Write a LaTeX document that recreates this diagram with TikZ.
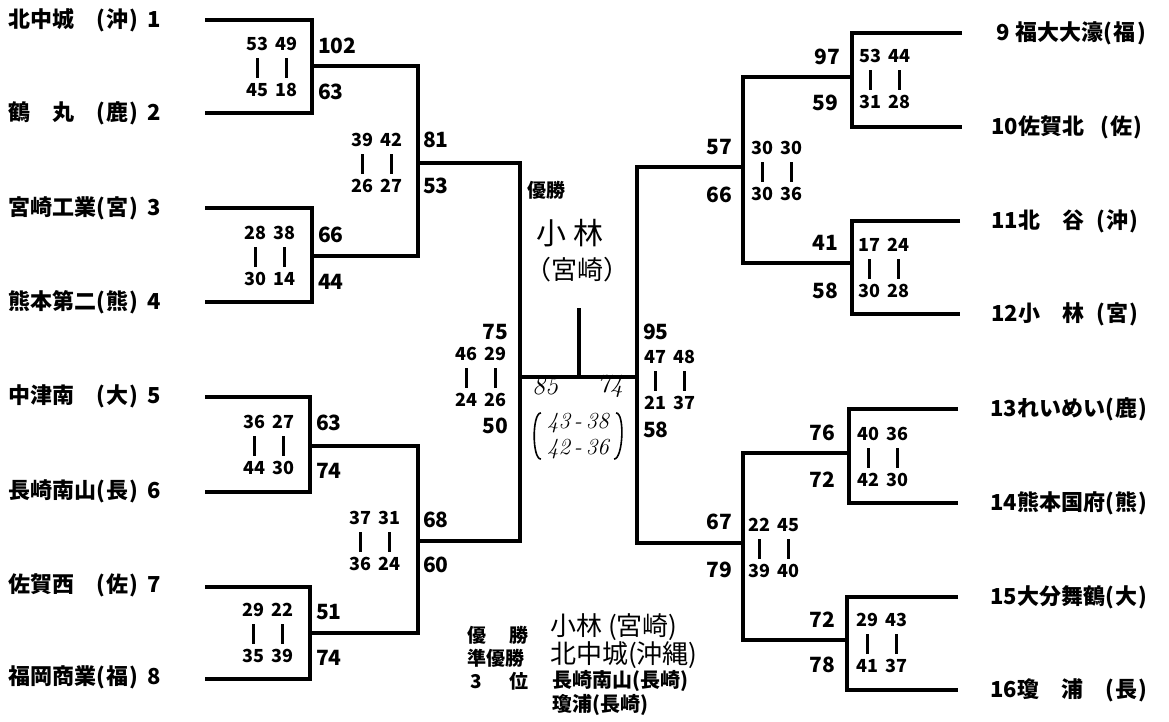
\documentclass[tikz,border=0pt]{standalone}
\usepackage{fontspec}
\newfontfamily\jp{Noto Sans CJK JP}
\newcommand{\scpair}[4]{\begin{tabular}{@{}c@{\hspace{7pt}}c@{}}#1&#2\\\raisebox{-4pt}{\rule{2.4pt}{20pt}}&\raisebox{-4pt}{\rule{2.4pt}{20pt}}\\#3&#4\end{tabular}}
\newcommand{\prefb}[1]{(\kern1.5pt#1\kern1.5pt)}

\begin{document}
\begin{tikzpicture}[x=1pt, y=-1pt,
    brk/.style={line width=3.2pt},
    team/.style={anchor=west, inner sep=0pt, font=\jp\bfseries\fontsize{22}{24}\selectfont},
    sc/.style={inner sep=0pt, font=\jp\bfseries\fontsize{21}{23}\selectfont},
    pr/.style={inner sep=0pt, font=\jp\bfseries\fontsize{18}{23}\selectfont},
    hand/.style={inner sep=0pt, font=\jp\fontsize{30}{32}\selectfont},
    hnum/.style={inner sep=0pt, font=\itshape\fontsize{26}{28}\selectfont},
    leg/.style={anchor=west, inner sep=0pt, font=\jp\bfseries\fontsize{19}{21}\selectfont}
]
\useasboundingbox (0,0) rectangle (1169,721);

% teams
\node[team] (t1) at (8,20) {北中城　\prefb{沖}\hspace{9pt}1};
\node[team] (t2) at (8,113) {鶴　丸　\prefb{鹿}\hspace{9pt}2};
\node[team] (t3) at (8,208) {宮崎工業\prefb{宮}\hspace{9pt}3};
\node[team] (t4) at (8,302) {熊本第二\prefb{熊}\hspace{9pt}4};
\node[team] (t5) at (8,396) {中津南　\prefb{大}\hspace{9pt}5};
\node[team] (t6) at (8,491) {長崎南山\prefb{長}\hspace{9pt}6};
\node[team] (t7) at (8,585) {佐賀西　\prefb{佐}\hspace{9pt}7};
\node[team] (t8) at (8,677) {福岡商業\prefb{福}\hspace{9pt}8};
\node[team] (t9) at (996,33) {9\hspace{6pt}福大大濠\prefb{福}};
\node[team] (t10) at (991,127) {10佐賀北\hspace{16pt}\prefb{佐}};
\node[team] (t11) at (991,221) {11北　谷\hspace{12pt}\prefb{沖}};
\node[team] (t12) at (991,314) {12小　林\hspace{12pt}\prefb{宮}};
\node[team] (t13) at (990,409) {13れいめい\prefb{鹿}};
\node[team] (t14) at (990,503) {14熊本国府\prefb{熊}};
\node[team] (t15) at (990,597) {15大分舞鶴\prefb{大}};
\node[team] (t16) at (990,690) {16瓊　浦　\prefb{長}};

% bracket corners
\coordinate (a1) at (205,20);  \coordinate (a2) at (205,113);
\coordinate (a3) at (205,208); \coordinate (a4) at (205,302);
\coordinate (a5) at (205,397); \coordinate (a6) at (205,492);
\coordinate (a7) at (205,587); \coordinate (a8) at (205,679);
\coordinate (a9) at (962,33);  \coordinate (a10) at (962,127);
\coordinate (a11) at (960,221); \coordinate (a12) at (960,314);
\coordinate (a13) at (958,409); \coordinate (a14) at (958,503);
\coordinate (a15) at (958,597); \coordinate (a16) at (958,690);
\coordinate (b1) at (312,66);  \coordinate (b2) at (312,256);
\coordinate (b3) at (310,446); \coordinate (b4) at (310,633);
\coordinate (b5) at (852,77);  \coordinate (b6) at (852,263);
\coordinate (b7) at (849,453); \coordinate (b8) at (847,640);
\coordinate (c1) at (418,163); \coordinate (c2) at (418,541);
\coordinate (c3) at (743,167); \coordinate (c4) at (743,543);
\coordinate (fl) at (520,377); \coordinate (fr) at (637,377);
\coordinate (top) at (579,308); \coordinate (stem) at (579,377);

\draw[brk] (a1) -| (b1) |- (a2);
\draw[brk] (a3) -| (b2) |- (a4);
\draw[brk] (a5) -| (b3) |- (a6);
\draw[brk] (a7) -| (b4) |- (a8);
\draw[brk] (b1) -| (c1) |- (b2);
\draw[brk] (b3) -| (c2) |- (b4);
\draw[brk] (c1) -| (fl) |- (c2);
\draw[brk] (a9) -| (b5) |- (a10);
\draw[brk] (a11) -| (b6) |- (a12);
\draw[brk] (a13) -| (b7) |- (a14);
\draw[brk] (a15) -| (b8) |- (a16);
\draw[brk] (b5) -| (c3) |- (b6);
\draw[brk] (b7) -| (c4) |- (b8);
\draw[brk] (c3) -| (fr) |- (c4);
\draw[brk] (fl) -- (fr);
\draw[brk] (top) -- (stem);

% scores, left half
\node[sc, anchor=west] (n1a) at (318,46) {102};
\node[sc, anchor=west] (n1b) at (318,92) {63};
\node[sc, anchor=west] (n2a) at (318,235) {66};
\node[sc, anchor=west] (n2b) at (318,282) {44};
\node[sc, anchor=west] (n3a) at (316,423) {63};
\node[sc, anchor=west] (n3b) at (316,471) {74};
\node[sc, anchor=west] (n4a) at (316,612) {51};
\node[sc, anchor=west] (n4b) at (316,658) {74};
\node[pr] (m1) at (272,69) {\scpair{53}{49}{45}{18}};
\node[pr] (m2) at (270,258) {\scpair{28}{38}{30}{14}};
\node[pr] (m3) at (269,447) {\scpair{36}{27}{44}{30}};
\node[pr] (m4) at (268,635) {\scpair{29}{22}{35}{39}};
\node[sc, anchor=west] (n5a) at (423,140) {81};
\node[sc, anchor=west] (n5b) at (423,186) {53};
\node[sc, anchor=west] (n6a) at (423,520) {68};
\node[sc, anchor=west] (n6b) at (423,565) {60};
\node[pr] (m5) at (377,165) {\scpair{39}{42}{26}{27}};
\node[pr] (m6) at (375,543) {\scpair{37}{31}{36}{24}};
\node[sc, anchor=east] (n7a) at (508,332) {75};
\node[sc, anchor=east] (n7b) at (508,426) {50};
\node[pr] (m7) at (481,379) {\scpair{46}{29}{24}{26}};

% scores, right half
\node[sc, anchor=west] (n8a) at (643,332) {95};
\node[sc, anchor=west] (n8b) at (643,430) {58};
\node[pr] (m8) at (670,382) {\scpair{47}{48}{21}{37}};
\node[sc, anchor=east] (n9a) at (732,147) {57};
\node[sc, anchor=east] (n9b) at (732,195) {66};
\node[sc, anchor=east] (n10a) at (732,522) {67};
\node[sc, anchor=east] (n10b) at (732,570) {79};
\node[pr] (m9) at (777,173) {\scpair{30}{30}{30}{36}};
\node[pr] (m10) at (774,550) {\scpair{22}{45}{39}{40}};
\node[sc, anchor=east] (n11a) at (840,57) {97};
\node[sc, anchor=east] (n11b) at (838,103) {59};
\node[sc, anchor=east] (n12a) at (838,243) {41};
\node[sc, anchor=east] (n12b) at (838,291) {58};
\node[sc, anchor=east] (n13a) at (835,433) {76};
\node[sc, anchor=east] (n13b) at (835,480) {72};
\node[sc, anchor=east] (n14a) at (835,620) {72};
\node[sc, anchor=east] (n14b) at (835,665) {78};
\node[pr] (m11) at (885,81) {\scpair{53}{44}{31}{28}};
\node[pr] (m12) at (884,270) {\scpair{17}{24}{30}{28}};
\node[pr] (m13) at (883,459) {\scpair{40}{36}{42}{30}};
\node[pr] (m14) at (882,645) {\scpair{29}{43}{41}{37}};

% final
\node[leg] (win) at (527,190) {優勝};
\node[hand] (champ) at (570,233) {小 林};
\node[hand, font=\jp\fontsize{26}{28}\selectfont] (champp) at (577,270) {（宮崎）};
\node[hnum] (fs1) at (545,386) {85};
\node[hnum] (fs2) at (610,386) {74};
\node[hnum, font=\itshape\fontsize{23}{26}\selectfont, align=center] (half) at (578,436)
  {43\,-\,38\\42\,-\,36};
\draw[line width=1.6pt] ([xshift=-6pt]half.north west) .. controls ([xshift=-15pt]half.north west) and ([xshift=-15pt]half.south west) .. ([xshift=-6pt]half.south west);
\draw[line width=1.6pt] ([xshift=7pt]half.north east) .. controls ([xshift=16pt]half.north east) and ([xshift=14pt]half.south east) .. ([xshift=5pt]half.south east);

% result list
\node[leg] (lg1) at (467,635) {\makebox[61pt][s]{優\hfill 勝}};
\node[leg] (lg2) at (467,658) {準優勝};
\node[leg] (lg3) at (470,681) {\makebox[58pt][s]{3\hfill 位}};
\node[hand, anchor=west, font=\jp\fontsize{26}{28}\selectfont] (lg4) at (550,627) {小林 (宮崎)};
\node[hand, anchor=west, font=\jp\fontsize{26}{28}\selectfont] (lg5) at (550,655) {北中城(沖縄)};
\node[leg, font=\jp\bfseries\fontsize{20}{22}\selectfont] (lg6) at (552,681) {長崎南山(長崎)};
\node[leg, font=\jp\bfseries\fontsize{20}{22}\selectfont] (lg7) at (552,705) {瓊浦(長崎)};
\end{tikzpicture}
\end{document}
